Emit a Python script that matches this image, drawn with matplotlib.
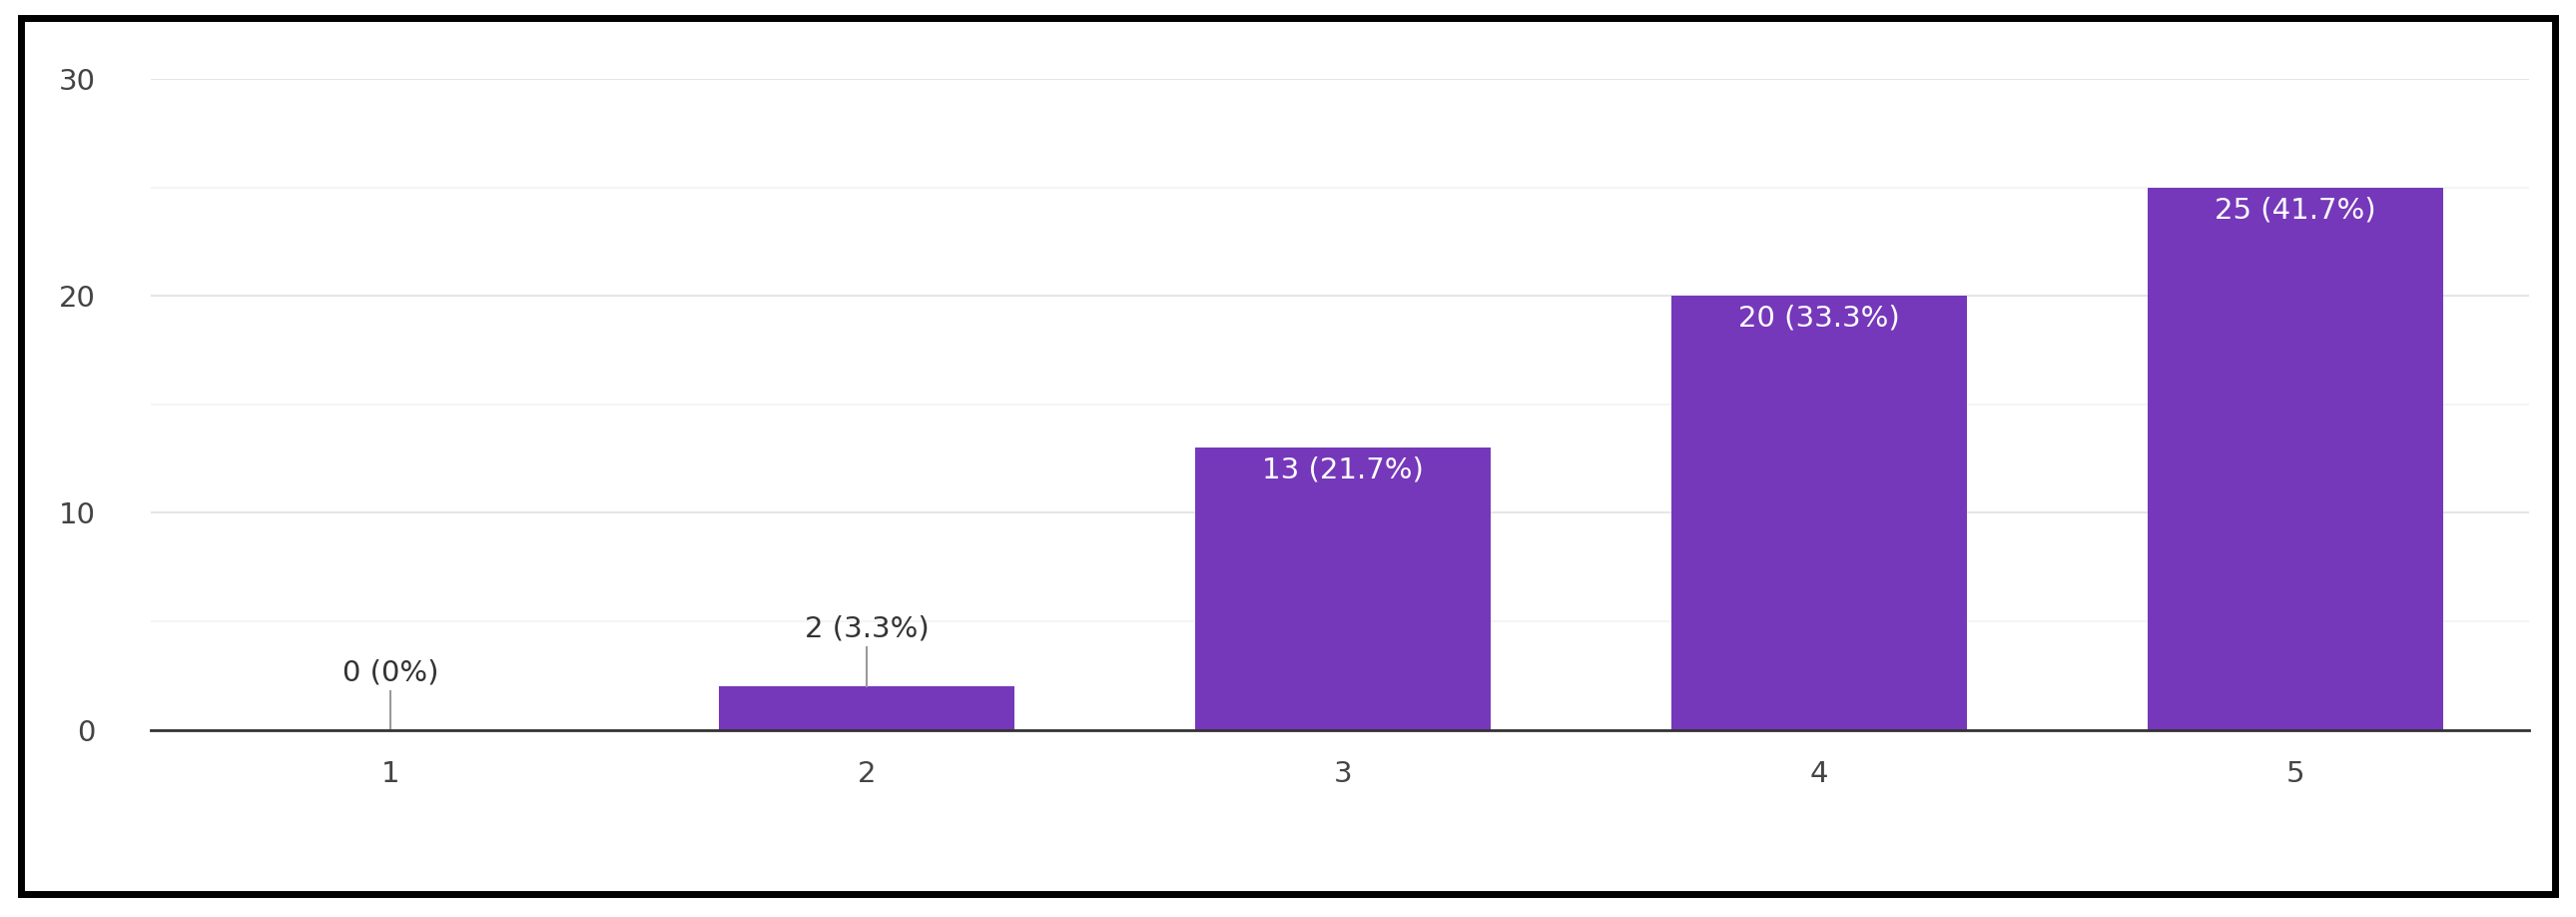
import matplotlib.pyplot as plt
from matplotlib.patches import Rectangle

categories = [1, 2, 3, 4, 5]
counts = [0, 2, 13, 20, 25]
labels = ["0 (0%)", "2 (3.3%)", "13 (21.7%)", "20 (33.3%)", "25 (41.7%)"]
bar_color = "#7638ba"

fig = plt.figure(figsize=(25.8, 9.18), dpi=100)
ax = fig.add_axes([0.0587, 0.204, 0.923, 0.71])

ax.bar(categories, counts, width=0.62, color=bar_color, zorder=3)
ax.set_xlim(0.497, 5.49)
ax.set_ylim(0, 30)
ax.set_yticks([0, 10, 20, 30])
ax.set_yticks([5, 15, 25], minor=True)
ax.grid(axis="y", which="major", color="#e6e6e6", lw=1.5, zorder=0)
ax.grid(axis="y", which="minor", color="#f2f2f2", lw=1.2, zorder=0)
ax.tick_params(which="both", length=0, labelsize=21, colors="#444444")
ax.tick_params(axis="x", pad=22)
ax.tick_params(axis="y", pad=40)
for s in ["top", "right", "left"]:
    ax.spines[s].set_visible(False)
ax.spines["bottom"].set_color("#333333")
ax.spines["bottom"].set_linewidth(2)
ax.spines["bottom"].set_zorder(4)

for x, v, lab in zip(categories, counts, labels):
    if v < 5:
        ax.plot([x, x], [v, v + 1.8], color="#999999", lw=1.5, zorder=4)
        ax.text(x, v + 2.0, lab, ha="center", va="bottom", fontsize=21, color="#333333")
    else:
        ax.text(x, v - 0.4, lab, ha="center", va="top", fontsize=21, color="white", zorder=5)

fig.patches.append(Rectangle((0.008, 0.025), 0.984, 0.955, transform=fig.transFigure,
                             fill=False, edgecolor="black", lw=5))
fig.savefig("out.png", dpi=100)
